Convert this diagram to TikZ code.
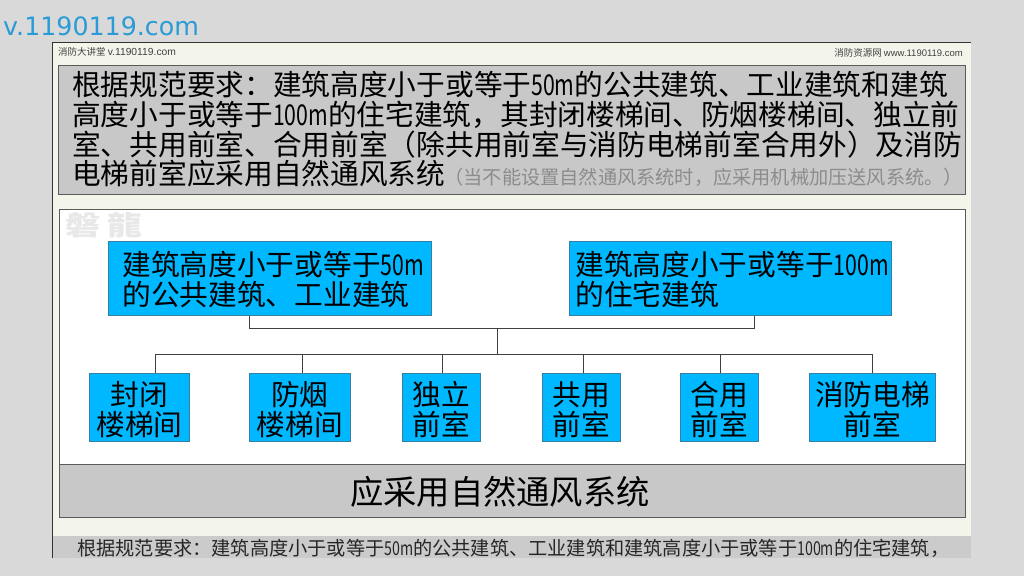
\documentclass[tikz,border=0pt]{standalone}
\usepackage{fontspec}
\setmainfont{Noto Sans CJK SC}
\newfontfamily\latinfont{DejaVu Sans}
\newfontfamily\headfont{Liberation Sans}
\newfontfamily\numfont[FakeStretch=0.74]{Noto Sans CJK SC}
\newfontfamily\markfont[FakeStretch=1.3]{Noto Sans CJK SC}
\newcommand{\numtxt}[1]{{\numfont #1}}
\usepackage{tikz}
\definecolor{pagegray}{HTML}{D9D9D9}
\definecolor{paper}{HTML}{F4F5EA}
\definecolor{panelgray}{HTML}{C8C8C8}
\definecolor{framegray}{HTML}{5A5A5A}
\definecolor{skyfill}{HTML}{00B8FF}
\definecolor{skyedge}{HTML}{3A7FA0}
\definecolor{urlblue}{HTML}{2A9BD6}
\tikzset{
  hallbox/.style={draw=skyedge, fill=skyfill, line width=0.8, inner sep=0, align=center,
    text height=27, font=\fontsize{28.7}{30}\selectfont},
  hallleft/.style={hallbox, align=left, text width=#1},
  link/.style={draw=black!75, line width=1},
  band/.style={draw=framegray, fill=panelgray, line width=1},
  headtext/.style={inner sep=0, text=black!75, font=\fontsize{9.5}{10}\selectfont},
}

\begin{document}
\begin{tikzpicture}[x=1pt, y=-1pt]
\useasboundingbox (0, 0) rectangle (1024, 576);
\fill[pagegray] (0, 0) rectangle (1024, 576);
\node[anchor=west, inner sep=0, text=urlblue, font=\latinfont\fontsize{25.3}{26}\selectfont] (siteurl) at (3, 26) {v.1190119.com};

\fill[paper] (52, 42) rectangle (971, 558);
\draw[black!80, line width=1] (52, 558) -- (52, 42) -- (971, 42);
\node[headtext, anchor=west] (headleft) at (58, 52) {消防大讲堂 {\headfont\fontsize{10.3}{10}\selectfont v.1190119.com}};
\node[headtext, anchor=east] (headright) at (963, 52.5) {消防资源网 {\headfont www.1190119.com}};

% rule at the top
\draw[band] (58, 65) rectangle (965, 194);
\node[anchor=north west, inner sep=0, align=left, font=\fontsize{28.7}{29.6}\selectfont] (rule) at (72, 71.5) {根据规范要求：建筑高度小于或等于\numtxt{50m}的公共建筑、工业建筑和建筑\\高度小于或等于\numtxt{100m}的住宅建筑，其封闭楼梯间、防烟楼梯间、独立前\\室、共用前室、合用前室（除共用前室与消防电梯前室合用外）及消防\\电梯前室应采用自然通风系统};
\node[anchor=east, inner sep=0, text=black!45, font=\fontsize{19.2}{20}\selectfont] (note) at (963, 177) {（当不能设置自然通风系统时，应采用机械加压送风系统。）};

% panel
\draw[framegray, fill=white, line width=1] (59, 209) rectangle (965, 517);
\node[anchor=west, inner sep=0, text=black!9, font=\markfont\bfseries\fontsize{27}{27}\selectfont] (mark) at (65, 225) {磐\hspace{7pt}龍};
\draw[band] (59, 464) rectangle (965, 517);
\node[inner sep=0, font=\fontsize{33.3}{34}\selectfont] (result) at (500, 492) {应采用自然通风系统};

% upper boxes
\node[hallleft=295, minimum width=323, minimum height=74, anchor=north west] (public) at (108, 241) {建筑高度小于或等于\numtxt{50m}\\的公共建筑、工业建筑};
\node[hallleft=310, minimum width=322, minimum height=74, anchor=north west] (housing) at (569, 241) {建筑高度小于或等于\numtxt{100m}\\的住宅建筑};

% lower boxes
\foreach \nm/\xa/\xb/\txt in {closed/89/189/封闭\\楼梯间, smoke/249/350/防烟\\楼梯间, single/402/480/独立\\前室, shared/542/620/共用\\前室, joint/680/758/合用\\前室, lift/809/935/消防电梯\\前室} {
  \pgfmathsetmacro{\boxw}{\xb-\xa}
  \node[hallbox, text height=29, text width=\boxw, minimum height=68, anchor=north west] (\nm) at (\xa, 373) {\txt};
}

% connectors
\coordinate (tapl) at (249, 328);
\coordinate (tapr) at (754, 328);
\coordinate (midtop) at (497, 328);
\coordinate (midlow) at (497, 354);
\draw[link] (tapl |- public.south) -- (tapl) -- (tapr) -- (tapr |- housing.south);
\draw[link] (midtop) -- (midlow);
\foreach \nm/\xd in {closed/155, smoke/302.5, single/442.5, shared/583, joint/720.5, lift/872} {
  \coordinate (drop\nm) at (\xd, 354);
  \draw[link] (drop\nm) -- (drop\nm |- \nm.north);
}
\draw[link] (dropclosed) -- (droplift);

% caption
\fill[panelgray!95!white] (52, 536) rectangle (971, 558);
\draw[black!80, line width=1] (52, 536) -- (52, 558);
\node[anchor=west, inner sep=0, text=black!85, font=\fontsize{19.2}{20}\selectfont] (caption) at (77, 548) {根据规范要求：建筑高度小于或等于\numtxt{50m}的公共建筑、工业建筑和建筑高度小于或等于\numtxt{100m}的住宅建筑，};
\end{tikzpicture}
\end{document}
